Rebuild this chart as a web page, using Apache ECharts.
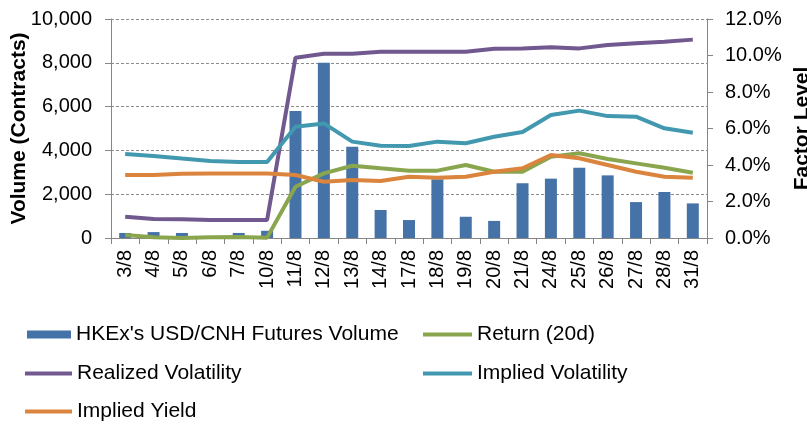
<!DOCTYPE html>
<html>
<head>
<meta charset="utf-8">
<script src="https://cdn.jsdelivr.net/npm/echarts@6/dist/echarts.min.js"></script>
<style>
html,body{margin:0;padding:0;background:#fff;}
#c{width:807px;height:425px;}
</style>
</head>
<body>
<div id="c"></div>
<script>
const categories = ['3/8','4/8','5/8','6/8','7/8','10/8','11/8','12/8','13/8','14/8','17/8','18/8','19/8','20/8','21/8','24/8','25/8','26/8','27/8','28/8','31/8'];
const volume = [230,270,230,0,230,330,5800,8000,4170,1280,820,2680,970,780,2500,2710,3210,2860,1640,2100,1580];
const returns20d = [0.16,0.04,0.0,0.04,0.05,0.02,2.81,3.54,3.96,3.82,3.69,3.69,4.0,3.63,3.63,4.45,4.64,4.33,4.09,3.85,3.58];
const realizedVol = [1.17,1.04,1.03,0.99,0.99,0.99,9.88,10.1,10.1,10.2,10.2,10.2,10.2,10.37,10.39,10.45,10.39,10.58,10.67,10.76,10.87];
const impliedVol = [4.6,4.49,4.35,4.22,4.16,4.16,6.1,6.28,5.28,5.06,5.04,5.28,5.19,5.55,5.81,6.74,6.98,6.68,6.65,6.01,5.77];
const impliedYield = [3.45,3.45,3.52,3.54,3.54,3.54,3.45,3.08,3.18,3.12,3.36,3.30,3.36,3.63,3.82,4.55,4.37,4.0,3.63,3.36,3.30];
const names = ["HKEx's USD/CNH Futures Volume",'Return (20d)','Realized Volatility','Implied Volatility','Implied Yield'];
const colors = ['#4572A7','#89A54E','#71588F','#4198AF','#DB843D'];

const FONT = 'Liberation Sans, Arial, sans-serif';
const chart = echarts.init(document.getElementById('c'), null, {renderer:'canvas'});

function lineSeries(i, data){
  return {name:names[i], type:'line', yAxisIndex:1, data:data, symbol:'none',
    lineStyle:{color:colors[i], width:4}, itemStyle:{color:colors[i]}, animation:false};
}
function leg(i, left, top, w, h){
  return {data:[names[i]], left:left, top:top, padding:0, itemWidth:w, itemHeight:h, icon:'rect',
    itemGap:0, textStyle:{fontFamily:FONT, fontSize:21, color:'#000', padding:[0,0,0,0]}};
}

chart.setOption({
  animation:false,
  textStyle:{fontFamily:FONT},
  grid:{left:111, right:100, top:19, bottom:187, containLabel:false, outerBoundsMode:'none'},
  legend:[
    leg(0, 27, 324, 44, 8),
    leg(1, 423, 324, 49, 4),
    leg(2, 25, 363, 47, 4),
    leg(3, 423, 363, 49, 4),
    leg(4, 25, 401, 47, 4)
  ],
  xAxis:{type:'category', data:categories, boundaryGap:true,
    axisLine:{lineStyle:{color:'#868686', width:1}},
    axisTick:{show:true, length:6, alignWithLabel:false, lineStyle:{color:'#868686'}},
    axisLabel:{rotate:90, interval:0, margin:12, fontSize:20, color:'#000', fontFamily:FONT}},
  yAxis:[
    {type:'value', min:0, max:10000, interval:2000, position:'left',
      name:'Volume (Contracts)', nameLocation:'middle', nameRotate:90, nameGap:81, nameMoveOverlap:false,
      nameTextStyle:{fontSize:21, fontWeight:'bold', color:'#000', fontFamily:FONT},
      axisLine:{show:true, lineStyle:{color:'#868686'}},
      axisTick:{show:true, length:6, lineStyle:{color:'#868686'}},
      axisLabel:{fontSize:20, color:'#000', margin:19, fontFamily:FONT,
        formatter:v=>v.toLocaleString('en-US')},
      splitLine:{show:true, lineStyle:{color:'#8c8c8c', type:[3,2], width:1}}},
    {type:'value', min:0, max:12, interval:2, position:'right',
      name:'Factor Level', nameLocation:'middle', nameRotate:90, nameGap:85, nameMoveOverlap:false,
      nameTextStyle:{fontSize:21, fontWeight:'bold', color:'#000', fontFamily:FONT},
      axisLine:{show:true, lineStyle:{color:'#868686'}},
      axisTick:{show:true, length:6, lineStyle:{color:'#868686'}},
      axisLabel:{fontSize:20, color:'#000', margin:18, fontFamily:FONT,
        formatter:v=>v.toFixed(1)+'%'},
      splitLine:{show:false}}
  ],
  series:[
    {name:names[0], type:'bar', yAxisIndex:0, data:volume, barWidth:12,
      itemStyle:{color:colors[0]}},
    lineSeries(1, returns20d),
    lineSeries(2, realizedVol),
    lineSeries(3, impliedVol),
    lineSeries(4, impliedYield)
  ]
});
</script>
</body>
</html>
